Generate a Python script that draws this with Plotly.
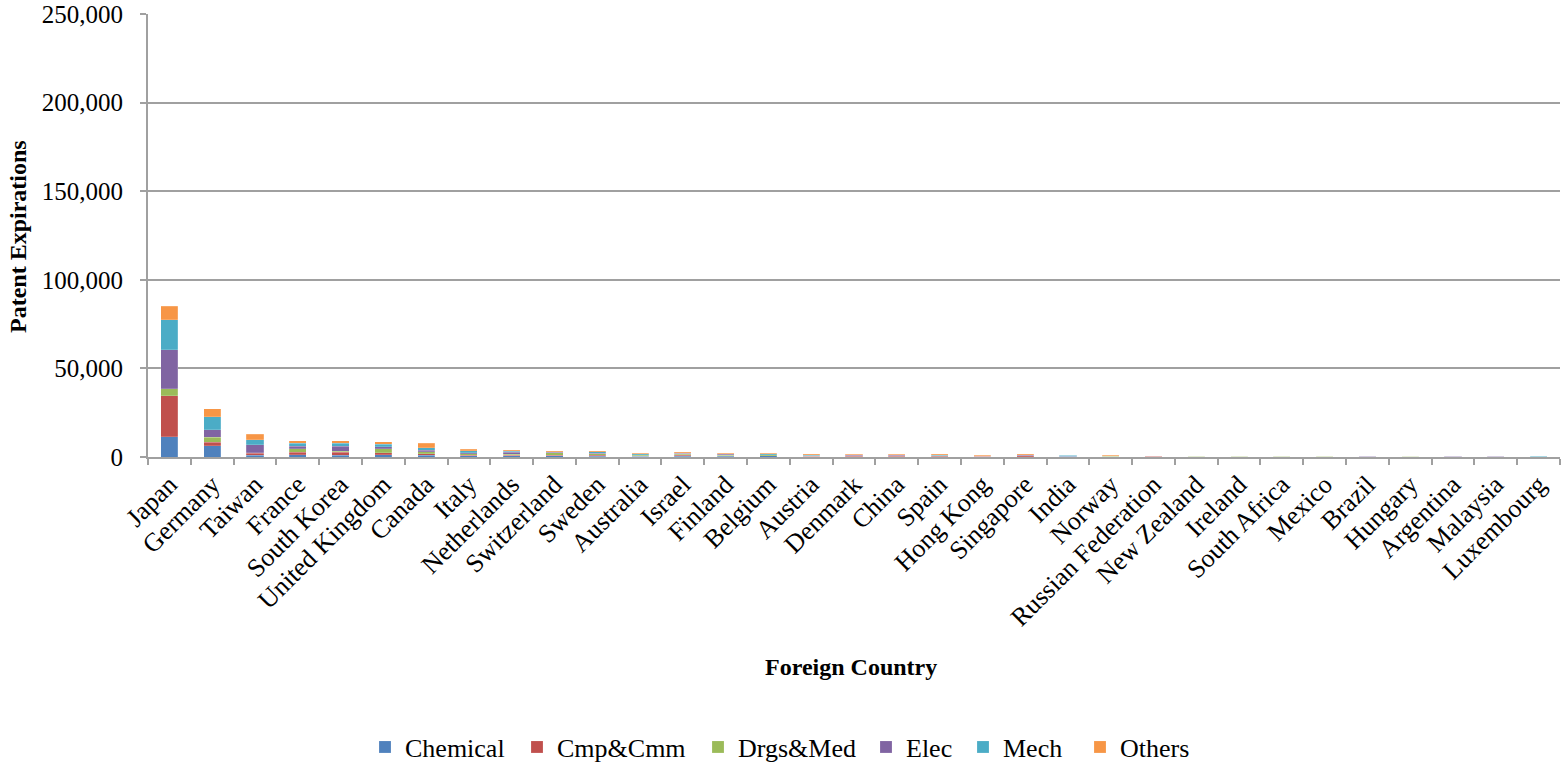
import plotly.graph_objects as go

countries = ["Japan", "Germany", "Taiwan", "France", "South Korea", "United Kingdom", "Canada",
             "Italy", "Netherlands", "Switzerland", "Sweden", "Australia", "Israel", "Finland",
             "Belgium", "Austria", "Denmark", "China", "Spain", "Hong Kong", "Singapore", "India",
             "Norway", "Russian Federation", "New Zealand", "Ireland", "South Africa", "Mexico",
             "Brazil", "Hungary", "Argentina", "Malaysia", "Luxembourg"]

chemical = [11300, 6400, 900, 1300, 900, 1300, 1100, 700, 600, 800, 400, 300, 300, 300, 600, 200, 200,
            200, 200, 100, 200, 300, 150, 250, 100, 100, 150, 150, 100, 150, 100, 50, 100]
cmp_cmm = [23300, 1900, 1100, 1300, 1900, 1100, 800, 400, 500, 200, 500, 200, 700, 500, 200, 100, 100,
           300, 100, 200, 400, 200, 100, 100, 50, 100, 50, 50, 50, 50, 50, 100, 50]
drgs_med = [3800, 2800, 300, 2000, 400, 2200, 1200, 800, 500, 1300, 800, 400, 500, 100, 400, 200, 500,
            100, 300, 100, 100, 200, 150, 100, 150, 150, 100, 100, 100, 150, 100, 50, 50]
elec = [22200, 4300, 4500, 1400, 2900, 1200, 800, 600, 1100, 300, 400, 300, 500, 600, 200, 200, 100,
        300, 200, 200, 300, 100, 100, 150, 100, 100, 50, 50, 50, 50, 50, 100, 50]
mech = [16900, 7300, 2800, 1700, 1800, 1500, 1300, 900, 500, 400, 900, 500, 200, 400, 400, 400, 300,
        300, 300, 200, 200, 100, 200, 100, 150, 100, 150, 100, 150, 50, 100, 100, 100]
others = [7700, 4500, 3200, 1600, 1300, 1400, 2500, 900, 600, 400, 400, 400, 400, 200, 300, 400, 300,
          300, 400, 200, 500, 100, 200, 100, 150, 150, 150, 150, 100, 50, 50, 50, 50]

series = [
    ("Chemical", chemical, "#4F81BD"),
    ("Cmp&Cmm", cmp_cmm, "#C0504D"),
    ("Drgs&Med", drgs_med, "#9BBB59"),
    ("Elec", elec, "#8064A2"),
    ("Mech", mech, "#4BACC6"),
    ("Others", others, "#F79646"),
]
legend_box_px = [385, 537, 718, 886, 983, 1100]

FONT = "Liberation Serif, Times New Roman, serif"
L, R, T, B, W, H = 148, 5, 14, 308, 1565, 765
PW, PH = W - L - R, H - T - B

fig = go.Figure()
legend_layouts = {}
for i, (name, vals, color) in enumerate(series):
    key = "legend" if i == 0 else f"legend{i + 1}"
    fig.add_trace(go.Bar(
        x=countries, y=vals, name=name, legend=key,
        marker=dict(color=color, line=dict(color="rgba(255,255,255,0.35)", width=0.5)),
    ))
    legend_layouts[key] = dict(
        orientation="h", x=(legend_box_px[i] - 20 - L) / PW, xanchor="left",
        y=(H - B - 747) / PH, yanchor="middle", bgcolor="rgba(0,0,0,0)",
        font=dict(family=FONT, size=26), itemwidth=30,
    )

fig.update_layout(
    barmode="stack",
    bargap=0.6,
    width=W, height=H,
    margin=dict(l=L, r=R, t=T, b=B, autoexpand=False),
    paper_bgcolor="white", plot_bgcolor="white",
    font=dict(family=FONT, size=22, color="black"),
    showlegend=True,
    xaxis=dict(
        automargin=False,
        showline=True, linecolor="#A0A0A0", linewidth=2,
        ticks="outside", ticklen=6, tickcolor="#A0A0A0", tickwidth=2,
        tickson="boundaries", tickangle=-45,
        tickfont=dict(family=FONT, size=26),
        showgrid=False,
    ),
    yaxis=dict(
        automargin=False,
        range=[0, 250000], tickvals=[0, 50000, 100000, 150000, 200000, 250000],
        tickformat=",d",
        showline=True, linecolor="#A0A0A0", linewidth=2,
        ticks="outside", ticklen=6, tickcolor="#A0A0A0", tickwidth=2,
        ticklabelstandoff=12,
        showgrid=True, gridcolor="#A0A0A0", gridwidth=1.5,
        zeroline=False,
        tickfont=dict(family=FONT, size=25),
    ),
    annotations=[
        dict(text="<b>Foreign Country</b>", xref="paper", yref="paper", x=(851 - L) / PW,
             y=(H - B - 667) / PH, xanchor="center", yanchor="middle", showarrow=False,
             font=dict(family=FONT, size=24)),
        dict(text="<b>Patent Expirations</b>", xref="paper", yref="paper", x=(18 - L) / PW,
             y=(H - B - 237) / PH, xanchor="center", yanchor="middle", textangle=-90, showarrow=False,
             font=dict(family=FONT, size=24)),
    ],
    **legend_layouts,
)

fig.write_html("out.html")
